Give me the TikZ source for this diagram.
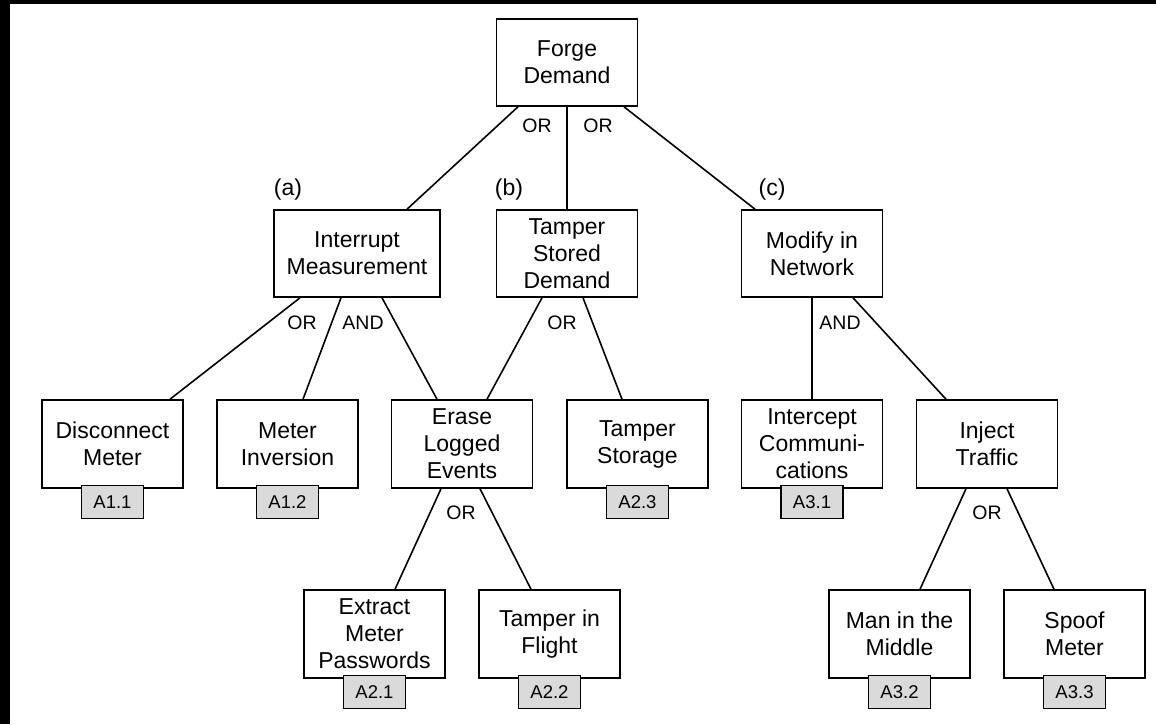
\documentclass[tikz,border=0pt]{standalone}
\usepackage{fontspec}
\setmainfont{Liberation Sans}
\definecolor{tagfill}{RGB}{218,218,218}
\begin{document}
\begin{tikzpicture}[x=1pt,y=-1pt,
  box/.style={draw,line width=1.6pt,minimum width=141pt,minimum height=88pt,align=center,inner sep=0pt,font=\fontsize{23}{27}\selectfont},
  tagbox/.style={draw,fill=tagfill,line width=1.6pt,minimum width=62pt,minimum height=33pt,inner sep=0pt,anchor=north,font=\fontsize{18.5}{20}\selectfont},
  gate/.style={inner sep=0pt,font=\fontsize{19.5}{22}\selectfont},
  caplbl/.style={inner sep=0pt,font=\fontsize{23}{27}\selectfont},
  edge/.style={line width=1.6pt}]
\useasboundingbox (0,0) rectangle (1156,724);
\fill[white] (0,0) rectangle (1156,724);
\fill[black] (0,0) rectangle (10,724);
\fill[black] (0,0) rectangle (1156,4);

% boxes
\node[box,minimum height=87pt] (fd) at (567,62.5) {Forge\\Demand};
\node[box,minimum height=87pt,minimum width=166pt] (im) at (357,253.5) {Interrupt\\Measurement};
\node[box,minimum height=87pt] (tsd) at (567,253.5) {Tamper\\Stored\\Demand};
\node[box,minimum height=87pt] (mn) at (812,253.5) {Modify in\\Network};

\node[box] (dm) at (112.5,444) {Disconnect\\Meter};
\node[box] (mi) at (287.5,444) {Meter\\Inversion};
\node[box] (el) at (462,444) {Erase\\Logged\\Events};
\node[box] (ts) at (637.5,444) {Tamper\\Storage};
\node[box] (ic) at (812,444) {Intercept\\Communi-\\cations};
\node[box] (it) at (987,444) {Inject\\Traffic};

\node[box] (em) at (374.5,634) {Extract\\Meter\\Passwords};
\node[box] (tf) at (549.5,634) {Tamper in\\Flight};
\node[box] (mm) at (899.5,634) {Man in the\\Middle};
\node[box] (sm) at (1074.5,634) {Spoof\\Meter};

% tags
\node[tagbox] (t11) at ([yshift=4pt]dm.south) {A1.1};
\node[tagbox] (t12) at ([yshift=4pt]mi.south) {A1.2};
\node[tagbox] (t23) at ([yshift=4pt]ts.south) {A2.3};
\node[tagbox] (t31) at ([yshift=4pt]ic.south) {A3.1};
\node[tagbox] (t21) at ([yshift=4pt]em.south) {A2.1};
\node[tagbox] (t22) at ([yshift=4pt]tf.south) {A2.2};
\node[tagbox] (t32) at ([yshift=4pt]mm.south) {A3.2};
\node[tagbox] (t33) at ([yshift=4pt]sm.south) {A3.3};

% connectors
\draw[edge] ([xshift=-49pt]fd.south) -- ([xshift=50pt]im.north);
\draw[edge] (fd.south) -- (tsd.north);
\draw[edge] ([xshift=57pt]fd.south) -- ([xshift=-57pt]mn.north);

\draw[edge] ([xshift=-57pt]im.south) -- ([xshift=57.5pt]dm.north);
\draw[edge] ([xshift=-16pt]im.south) -- ([xshift=15.5pt]mi.north);
\draw[edge] ([xshift=25pt]im.south) -- ([xshift=-25pt]el.north);

\draw[edge] ([xshift=-25pt]tsd.south) -- ([xshift=25pt]el.north);
\draw[edge] ([xshift=16pt]tsd.south) -- ([xshift=-15.5pt]ts.north);

\draw[edge] (mn.south) -- (ic.north);
\draw[edge] ([xshift=41pt]mn.south) -- ([xshift=-41pt]it.north);

\draw[edge] ([xshift=-21pt]el.south) -- ([xshift=20.5pt]em.north);
\draw[edge] ([xshift=18pt]el.south) -- ([xshift=-18.5pt]tf.north);

\draw[edge] ([xshift=-21pt]it.south) -- ([xshift=20.5pt]mm.north);
\draw[edge] ([xshift=20pt]it.south) -- ([xshift=-20.5pt]sm.north);

% gate labels
\node[gate] (g1) at (537,126) {OR};
\node[gate] (g2) at (598,126) {OR};
\node[gate] (g3) at (302,323) {OR};
\node[gate] (g4) at (363,323) {AND};
\node[gate] (g5) at (562,323) {OR};
\node[gate] (g6) at (840,323) {AND};
\node[gate] (g7) at (461,513) {OR};
\node[gate] (g8) at (987,513) {OR};

% captions
\node[caplbl] (ca) at (288,190) {(a)};
\node[caplbl] (cb) at (509,190) {(b)};
\node[caplbl] (cc) at (772,190) {(c)};
\end{tikzpicture}
\end{document}
